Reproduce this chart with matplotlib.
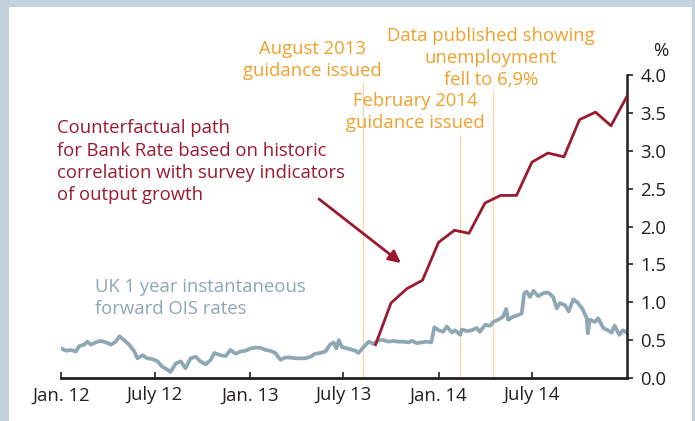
import matplotlib.pyplot as plt
import pandas as pd
from matplotlib.patches import Rectangle

# UK 1 year instantaneous forward OIS rates
ois_dates = [
    '2012-01-01', '2012-01-11', '2012-01-20', '2012-01-30', '2012-02-05', '2012-02-15',
    '2012-02-21', '2012-02-28', '2012-03-08', '2012-03-18', '2012-03-28', '2012-04-07',
    '2012-04-16', '2012-04-23', '2012-05-02', '2012-05-12', '2012-05-22', '2012-05-28',
    '2012-06-07', '2012-06-16', '2012-06-26', '2012-07-06', '2012-07-15', '2012-07-25',
    '2012-07-31', '2012-08-10', '2012-08-20', '2012-08-29', '2012-09-08', '2012-09-18',
    '2012-09-27', '2012-10-07', '2012-10-17', '2012-10-24', '2012-11-05', '2012-11-15',
    '2012-11-24', '2012-12-04', '2012-12-14', '2012-12-23', '2013-01-02', '2013-01-11',
    '2013-01-21', '2013-01-31', '2013-02-09', '2013-02-19', '2013-03-01', '2013-03-10',
    '2013-03-20', '2013-03-30', '2013-04-08', '2013-04-18', '2013-04-28', '2013-05-07',
    '2013-05-17', '2013-05-27', '2013-06-05', '2013-06-12', '2013-06-17', '2013-06-22',
    '2013-06-28', '2013-07-08', '2013-07-14', '2013-07-24', '2013-07-30', '2013-08-09',
    '2013-08-19', '2013-08-28', '2013-09-07', '2013-09-17', '2013-09-26', '2013-10-06',
    '2013-10-15', '2013-10-25', '2013-11-04', '2013-11-10', '2013-11-20', '2013-11-30',
    '2013-12-09', '2013-12-18', '2013-12-24', '2014-01-01', '2014-01-10', '2014-01-17',
    '2014-01-27', '2014-02-02', '2014-02-12', '2014-02-15', '2014-02-25', '2014-03-06',
    '2014-03-16', '2014-03-22', '2014-04-01', '2014-04-11', '2014-04-17', '2014-04-27',
    '2014-05-06', '2014-05-12', '2014-05-16', '2014-05-26', '2014-06-04', '2014-06-11',
    '2014-06-16', '2014-06-21', '2014-06-27', '2014-07-04', '2014-07-13', '2014-07-23',
    '2014-08-01', '2014-08-11', '2014-08-18', '2014-08-24', '2014-09-03', '2014-09-10',
    '2014-09-19', '2014-09-28', '2014-10-07', '2014-10-15', '2014-10-17', '2014-10-21',
    '2014-10-31', '2014-11-06', '2014-11-16', '2014-11-25', '2014-12-02', '2014-12-08',
    '2014-12-17', '2014-12-24', '2014-12-31',
]
ois_values = [
    0.39, 0.36, 0.37, 0.35, 0.42, 0.44,
    0.48, 0.44, 0.47, 0.49, 0.47, 0.44,
    0.48, 0.55, 0.50, 0.44, 0.35, 0.26,
    0.30, 0.26, 0.25, 0.22, 0.15, 0.11,
    0.08, 0.19, 0.22, 0.13, 0.26, 0.28,
    0.22, 0.18, 0.24, 0.33, 0.30, 0.29,
    0.37, 0.32, 0.35, 0.36, 0.39, 0.40,
    0.40, 0.37, 0.36, 0.33, 0.24, 0.27,
    0.27, 0.26, 0.26, 0.26, 0.28, 0.32,
    0.33, 0.35, 0.44, 0.47, 0.39, 0.50,
    0.41, 0.39, 0.38, 0.36, 0.33, 0.41,
    0.48, 0.45, 0.50, 0.50, 0.48, 0.49,
    0.48, 0.48, 0.47, 0.49, 0.46, 0.47,
    0.48, 0.47, 0.67, 0.63, 0.61, 0.68,
    0.60, 0.63, 0.57, 0.64, 0.62, 0.63,
    0.66, 0.61, 0.70, 0.69, 0.74, 0.77,
    0.81, 0.91, 0.77, 0.81, 0.83, 0.85,
    1.12, 1.14, 1.07, 1.15, 1.08, 1.12,
    1.13, 1.07, 0.92, 0.99, 0.96, 0.88,
    1.04, 0.99, 0.91, 0.79, 0.59, 0.77,
    0.74, 0.79, 0.66, 0.63, 0.60, 0.69,
    0.57, 0.63, 0.60,
]

# Counterfactual path for Bank Rate (monthly)
cf_dates = ['2013-09-01', '2013-10-01', '2013-11-01', '2013-12-01', '2014-01-01',
            '2014-02-01', '2014-03-01', '2014-04-01', '2014-05-01', '2014-06-01',
            '2014-07-01', '2014-08-01', '2014-09-01', '2014-10-01', '2014-11-01',
            '2014-12-01', '2015-01-01']
cf_values = [0.44, 0.99, 1.18, 1.29, 1.79, 1.95, 1.91, 2.31, 2.41, 2.41,
             2.85, 2.97, 2.92, 3.41, 3.51, 3.33, 3.72]

# event lines
event_dates = ['2013-08-07', '2014-02-12', '2014-04-16']
event_tops = [3.91, 3.21, 3.80]

tick_dates = ['2012-01-01', '2012-07-01', '2013-01-01', '2013-07-01', '2014-01-01', '2014-07-01']
tick_labels = ['Jan. 12', 'July 12', 'Jan. 13', 'July 13', 'Jan. 14', 'July 14']

RED = '#9b1b2e'
GREY = '#8ea7b4'
ORANGE = '#f0a12c'
DARK = '#231f20'
FS = 13.3
LS = 1.3

plt.rcParams['font.family'] = ['Open Sans', 'DejaVu Sans']

W, H = 695, 421
fig = plt.figure(figsize=(W / 100, H / 100), dpi=100)
fig.patch.set_facecolor('#c3d3dd')
fig.patches.append(Rectangle((9 / W, 0), (692 - 9) / W, (H - 7) / H,
                             transform=fig.transFigure, facecolor='white',
                             edgecolor='none', zorder=-5))


def px(x, y):
    return x / W, 1 - y / H


ax = fig.add_axes([61 / W, (H - 378) / H, 566 / W, 303 / H])
ax.set_facecolor('none')

ois_x = pd.to_datetime(ois_dates)
cf_x = pd.to_datetime(cf_dates)

for d, top in zip(pd.to_datetime(event_dates), event_tops):
    ax.vlines(d, 0, top, color='#f9d9a6', lw=0.9, zorder=1)

ax.plot(ois_x, ois_values, color=GREY, lw=2.7, zorder=2)
ax.plot(cf_x, cf_values, color=RED, lw=2.0, zorder=3)

ax.set_xlim(pd.Timestamp('2012-01-01'), pd.Timestamp('2015-01-01'))
ax.set_ylim(0, 4)

ax.spines['left'].set_visible(False)
ax.spines['top'].set_visible(False)
ax.spines['bottom'].set_linewidth(2.0)
ax.spines['right'].set_linewidth(1.8)
ax.spines['bottom'].set_color(DARK)
ax.spines['right'].set_color(DARK)

ax.yaxis.tick_right()
ax.set_yticks([0, 0.5, 1, 1.5, 2, 2.5, 3, 3.5, 4])
ax.set_yticklabels(['%.1f' % v for v in ax.get_yticks()])
ax.tick_params(axis='y', direction='out', length=4.5, width=1.2, colors=DARK,
               labelsize=FS, pad=5)
ax.set_xticks(pd.to_datetime(tick_dates))
ax.set_xticklabels(tick_labels)
ax.tick_params(axis='x', direction='in', length=4.5, width=1.2, colors=DARK,
               labelsize=FS, pad=6)

# va='baseline' on multi-line text anchors the last line's baseline
fig.text(*px(661, 56), '%', color=DARK, fontsize=FS, ha='center', va='baseline')

fig.text(*px(312, 76), 'August 2013\nguidance issued', color=ORANGE, fontsize=FS,
         ha='center', va='baseline', linespacing=LS)
fig.text(*px(491, 85), 'Data published showing\nunemployment\nfell to 6,9%',
         color=ORANGE, fontsize=FS, ha='center', va='baseline', linespacing=LS)
fig.text(*px(415, 128), 'February 2014\nguidance issued', color=ORANGE, fontsize=FS,
         ha='center', va='baseline', linespacing=LS)

fig.text(*px(57, 200), 'Counterfactual path\nfor Bank Rate based on historic\n'
         'correlation with survey indicators\nof output growth',
         color=RED, fontsize=FS, ha='left', va='baseline', linespacing=LS)
fig.text(*px(95, 314), 'UK 1 year instantaneous\nforward OIS rates', color=GREY,
         fontsize=FS, ha='left', va='baseline', linespacing=LS)

ax.annotate('', xy=px(401, 263), xycoords='figure fraction',
            xytext=px(319, 199), textcoords='figure fraction',
            arrowprops=dict(arrowstyle='-|>', color=RED, lw=2.0,
                            mutation_scale=18, shrinkA=0, shrinkB=0))

fig.savefig('out.png', dpi=100)
